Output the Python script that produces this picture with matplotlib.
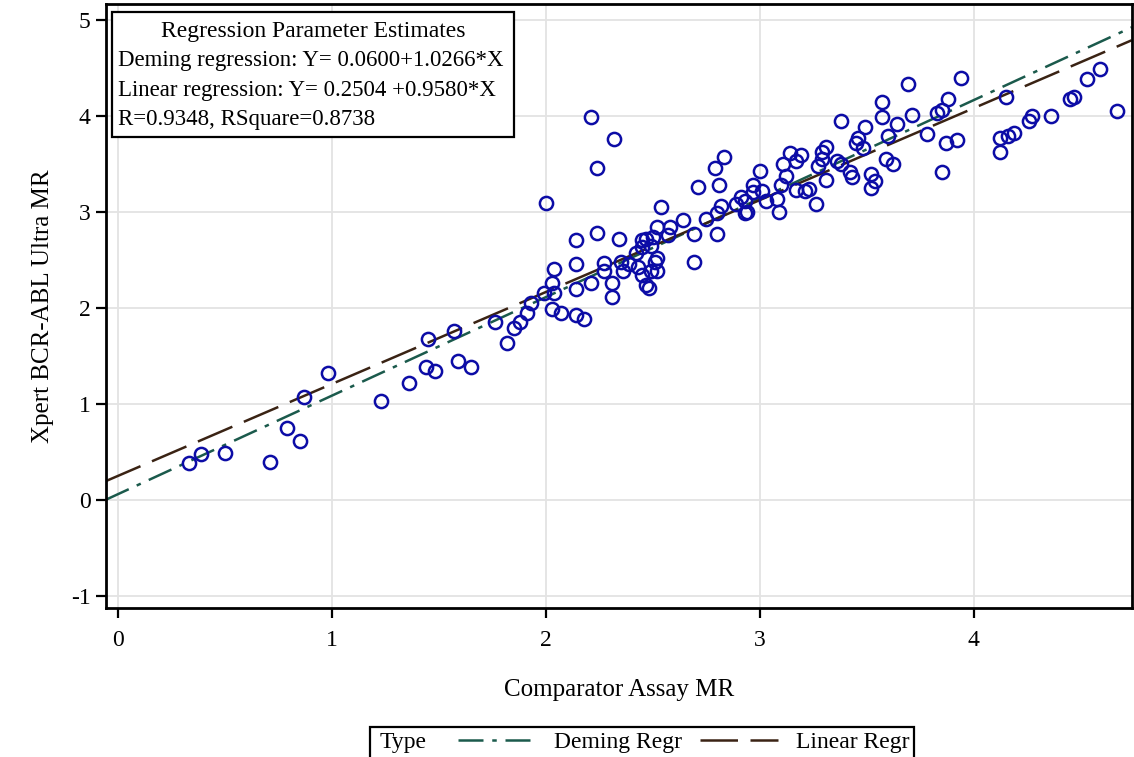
import numpy as np
import matplotlib
matplotlib.use('Agg')
import matplotlib.pyplot as plt
from matplotlib.patches import Rectangle
from matplotlib.lines import Line2D

# ---------------------------------------------------------------------------
# Data
# ---------------------------------------------------------------------------

comparator_mr = [
    0.33, 0.39, 0.50, 0.71, 0.79, 0.85, 0.87, 0.98, 1.23, 1.36,
    1.44, 1.48, 1.45, 1.57, 1.59, 1.65, 1.82, 1.85, 1.88, 1.76,
    1.91, 1.93, 1.99, 2.04, 2.03, 2.03, 2.07, 2.14, 2.18, 2.04,
    2.14, 2.14, 2.14, 2.21, 2.24, 2.27, 2.27, 2.31, 2.31, 2.34,
    2.00, 2.21, 2.32, 2.24, 2.35, 2.36, 2.39, 2.43, 2.45, 2.49,
    2.52, 2.42, 2.45, 2.49, 2.52, 2.51, 2.45, 2.47, 2.50, 2.57,
    2.52, 2.58, 2.64, 2.54, 2.47, 2.48, 2.69, 2.69, 2.75, 2.71,
    2.80, 2.80, 2.82, 2.81, 2.79, 2.83, 2.89, 2.91, 2.93, 2.93,
    2.94, 2.97, 2.97, 3.01, 3.03, 3.00, 3.08, 3.09, 3.10, 3.12,
    3.11, 3.14, 3.17, 3.17, 3.19, 3.21, 3.23, 3.26, 3.31, 3.29,
    3.29, 3.27, 3.31, 3.36, 3.38, 3.42, 3.43, 3.38, 3.49, 3.46,
    3.45, 3.48, 3.52, 3.54, 3.52, 3.59, 3.62, 3.60, 3.64, 3.57,
    3.57, 3.69, 3.71, 3.78, 3.83, 3.85, 3.88, 3.94, 3.87, 3.92,
    3.85, 4.15, 4.12, 4.16, 4.19, 4.12, 4.26, 4.27, 4.36, 4.45,
    4.47, 4.53, 4.59, 4.67,
]
xpert_mr = [
    0.38, 0.48, 0.49, 0.39, 0.75, 0.61, 1.07, 1.32, 1.03, 1.22,
    1.39, 1.34, 1.68, 1.76, 1.45, 1.38, 1.64, 1.79, 1.85, 1.85,
    1.95, 2.05, 2.16, 2.16, 2.26, 1.99, 1.95, 1.93, 1.89, 2.41,
    2.71, 2.46, 2.20, 2.26, 2.78, 2.47, 2.38, 2.26, 2.11, 2.72,
    3.09, 3.99, 3.76, 3.46, 2.48, 2.38, 2.46, 2.43, 2.34, 2.38,
    2.38, 2.57, 2.63, 2.65, 2.52, 2.48, 2.71, 2.72, 2.74, 2.76,
    2.84, 2.84, 2.92, 3.05, 2.24, 2.21, 2.48, 2.77, 2.93, 3.26,
    2.77, 2.99, 3.06, 3.28, 3.46, 3.57, 3.08, 3.16, 3.11, 2.99,
    3.00, 3.21, 3.28, 3.22, 3.11, 3.43, 3.14, 3.00, 3.28, 3.38,
    3.50, 3.61, 3.53, 3.23, 3.59, 3.22, 3.24, 3.08, 3.68, 3.63,
    3.55, 3.48, 3.33, 3.53, 3.50, 3.42, 3.36, 3.95, 3.89, 3.77,
    3.72, 3.67, 3.40, 3.32, 3.25, 3.55, 3.50, 3.79, 3.92, 3.99,
    4.15, 4.33, 4.01, 3.81, 4.03, 4.06, 4.18, 4.40, 3.72, 3.75,
    3.42, 4.20, 3.77, 3.79, 3.82, 3.63, 3.95, 4.00, 4.00, 4.18,
    4.20, 4.39, 4.49, 4.05,
]

# Regression fits as reported in the chart
deming_intercept, deming_slope = 0.0600, 1.0266
linear_intercept, linear_slope = 0.2504, 0.9580
r_value, r_square = 0.9348, 0.8738

x_ticks = [0, 1, 2, 3, 4]
y_ticks = [-1, 0, 1, 2, 3, 4, 5]
x_lim = (-0.056, 4.738)
y_lim = (-1.125, 5.167)

# ---------------------------------------------------------------------------
# Figure
# ---------------------------------------------------------------------------

plt.rcParams['font.family'] = ['Liberation Serif', 'DejaVu Serif']

deming_color = '#1b5a4c'
linear_color = '#3a2314'
marker_color = '#0c0ca6'

fig = plt.figure(figsize=(11.34, 7.57), dpi=100)
ax = fig.add_axes([0.0935, 0.197, 0.9045, 0.7977])

ax.set_xlim(*x_lim)
ax.set_ylim(*y_lim)
ax.set_xticks(x_ticks)
ax.set_yticks(y_ticks)
ax.set_yticklabels([str(t) for t in y_ticks])
ax.grid(True, color='#e3e3e3', linewidth=1.3, zorder=0)
ax.set_axisbelow(True)

ax.tick_params(axis='both', direction='out', length=7, width=1.6,
               labelsize=17, pad=4, color='black')
ax.tick_params(axis='x', pad=9)
for spine in ax.spines.values():
    spine.set_linewidth(2.0)

# fitted lines across the full x range
xs = np.array(x_lim)
ax.plot(xs, deming_intercept + deming_slope * xs, color=deming_color,
        linewidth=1.8, dashes=(10, 3.5, 1.8, 3.5), zorder=2)
ax.plot(xs, linear_intercept + linear_slope * xs, color=linear_color,
        linewidth=1.8, dashes=(15, 5), zorder=2)

ax.plot(comparator_mr, xpert_mr, linestyle='none', marker='o',
        markersize=9.5, markerfacecolor='none', markeredgecolor=marker_color,
        markeredgewidth=1.8, zorder=3)

ax.set_xlabel('Comparator Assay MR', fontsize=18, labelpad=20)
ax.set_ylabel('Xpert BCR-ABL Ultra MR', fontsize=18, labelpad=12)

# Regression parameter box (inset, top left)
ax.add_patch(Rectangle((0.006, 0.78), 0.392, 0.207, transform=ax.transAxes,
                       facecolor='white', edgecolor='black', linewidth=1.6,
                       zorder=5))
ax.text(0.202, 0.954, 'Regression Parameter Estimates', transform=ax.transAxes,
        ha='center', va='center', fontsize=17, zorder=6)
box_lines = [
    f'Deming regression: Y= {deming_intercept:.4f}+{deming_slope:.4f}*X',
    f'Linear regression: Y= {linear_intercept:.4f} +{linear_slope:.4f}*X',
    f'R={r_value:.4f}, RSquare={r_square:.4f}',
]
for i, line in enumerate(box_lines):
    ax.text(0.0117, 0.906 - i * 0.049, line, transform=ax.transAxes,
            ha='left', va='center', fontsize=16.5, zorder=6)

# Legend strip at the bottom, cut by the image edge like the reference
fig.patches.append(Rectangle((0.326, -0.02), 0.48, 0.0596,
                             transform=fig.transFigure, facecolor='white',
                             edgecolor='black', linewidth=1.6))
fig.text(0.335, 0.0198, 'Type', ha='left', va='center', fontsize=17)
handles = [
    Line2D([], [], color=deming_color, linewidth=1.8, dashes=(10, 3.5, 1.8, 3.5)),
    Line2D([], [], color=linear_color, linewidth=1.8, dashes=(15, 5)),
]
fig.legend(handles, ['Deming Regr', 'Linear Regr'], ncol=2, frameon=False,
           loc='center', bbox_to_anchor=(0.603, 0.0198), fontsize=17,
           handlelength=3.3, handletextpad=0.75, columnspacing=0.8,
           borderpad=0, borderaxespad=0)

fig.savefig('out.png', dpi=100)
